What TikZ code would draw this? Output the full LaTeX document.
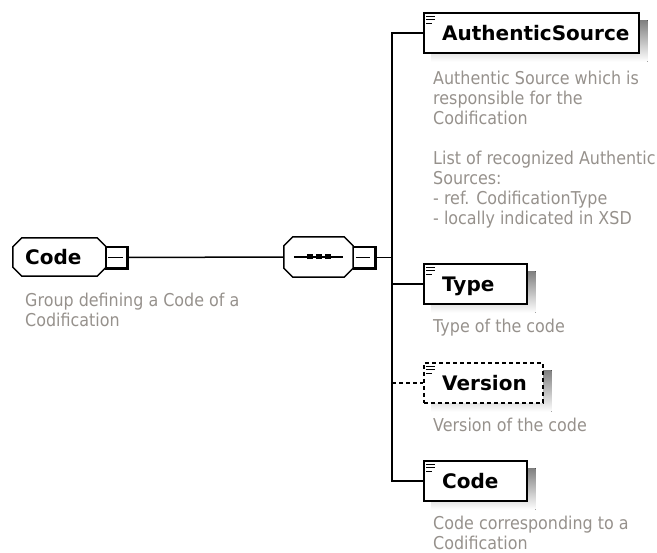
\documentclass[tikz,border=0pt]{standalone}
\usepackage{fontspec}
\setmainfont{DejaVu Sans}
\newfontfamily\descfont{DejaVu Sans}[FakeStretch=0.9]
\usetikzlibrary{calc,backgrounds}
\definecolor{shade}{RGB}{192,192,192}
\definecolor{desc}{RGB}{150,145,140}
\newcommand{\octa}[3][]{\path[#1] ($(#2.north west)+(#3,0)$) -- ($(#2.north east)+(-#3,0)$) -- ($(#2.north east)+(0,#3)$) -- ($(#2.south east)+(0,-#3)$) -- ($(#2.south east)+(-#3,0)$) -- ($(#2.south west)+(#3,0)$) -- ($(#2.south west)+(0,-#3)$) -- ($(#2.north west)+(0,#3)$) -- cycle;}
\newcommand{\elicon}[1]{\draw[line width=1] ($(#1.north west)+(3,4)$) -- +(9,0) ($(#1.north west)+(3,7.5)$) -- +(9,0) ($(#1.north west)+(3,11)$) -- +(6,0);}
\newcommand{\eshadow}[1]{\fill[shade] ($(#1.north west)+(8,8)$) rectangle ($(#1.south east)+(8,8)$);}
\tikzset{
  elembox/.style={draw, line width=1.5, fill=white, minimum height=40, inner sep=0, anchor=west},
  grpbox/.style={draw=none, minimum height=38, inner sep=0},
  minusbox/.style={draw, fill=white, line width=1.5, minimum size=21, inner sep=0},
  lbl/.style={font=\fontsize{20}{24}\selectfont\bfseries, anchor=base west, inner sep=0},
  descr/.style={font=\descfont\fontsize{17.7}{20}\selectfont, text=desc, anchor=base west, inner sep=0, align=left},
  conn/.style={line width=1.5},
}
\begin{document}
\begin{tikzpicture}[x=1pt,y=-1pt]
\useasboundingbox (0,0) rectangle (657,553);
% group "Code"
\node[grpbox, minimum width=93] (grp) at (59.5,257) {};
\octa[fill=shade, shift={(8,8)}]{grp}{9}
\octa[draw, fill=white, line width=1.5]{grp}{9}
\node[lbl] (grplbl) at (25,265) {Code};
\node[minusbox] (grpm) at (116.5,257.5) {};
\draw[line width=3] (grpm.north east) -- (grpm.south east) -- (grpm.south west);
\draw[line width=1.5] ($(grpm.west)+(3,0)$) -- ($(grpm.east)+(-5,0)$);
% multi-line descriptions are placed by the baseline of their last line
\node[descr] (grpdesc) at (25,327) {Group defining a Code of a\\Codification};
% sequence
\node[grpbox, minimum width=69, minimum height=40] (seq) at (318.5,257) {};
\octa[fill=shade, shift={(8,8)}]{seq}{9}
\octa[draw, fill=white, line width=1.5]{seq}{9}
\draw[line width=1.5] ($(seq.west)+(10,0)$) -- ($(seq.east)+(-10,0)$);
\foreach \i/\px in {1/310,2/319,3/327.5}{\fill (\px-3,254.5) rectangle (\px+3,259.5);}
\node[minusbox] (seqm) at (364,257.5) {};
\draw[line width=3] (seqm.north east) -- (seqm.south east) -- (seqm.south west);
\draw[line width=1.5] ($(seqm.west)+(3,0)$) -- ($(seqm.east)+(-5,0)$);
% elements
\node[elembox, minimum width=215] (as) at (423,33) {};
\node[elembox, minimum width=103] (type) at (423,284) {};
\node[elembox, minimum width=119, dash pattern=on 4pt off 3pt] (ver) at (423,383) {};
\node[elembox, minimum width=103] (code) at (423,481) {};
\begin{scope}[on background layer]
\eshadow{as}\eshadow{type}\eshadow{ver}\eshadow{code}
\end{scope}
\elicon{as}\elicon{type}\elicon{ver}\elicon{code}
\node[lbl] (aslbl) at (442,41) {AuthenticSource};
\node[lbl] (typelbl) at (442,292) {Type};
\node[lbl] (verlbl) at (442,391) {Version};
\node[lbl] (codelbl) at (442,489) {Code};
\node[descr] (asdesc) at (433,225) {Authentic Source which is\\responsible for the\\Codification\\[20pt]List of recognized Authentic\\Sources:\\- ref. CodificationType\\- locally indicated in XSD};
\node[descr] (typedesc) at (433,333) {Type of the code};
\node[descr] (verdesc) at (433,432) {Version of the code};
\node[descr] (codedesc) at (433,550) {Code corresponding to a\\Codification};
% connectors
\coordinate (spine) at (392,0);
\draw[conn] (grpm.east) -- (seq.west);
\draw[conn] (seqm.east) -- (seqm.east -| spine);
\draw[conn] (as.west) -- (as.west -| spine) -- (code.west -| spine) -- (code.west);
\draw[conn] (type.west -| spine) -- (type.west);
\draw[conn, dash pattern=on 4pt off 3pt] (ver.west -| spine) -- (ver.west);
\end{tikzpicture}
\end{document}
